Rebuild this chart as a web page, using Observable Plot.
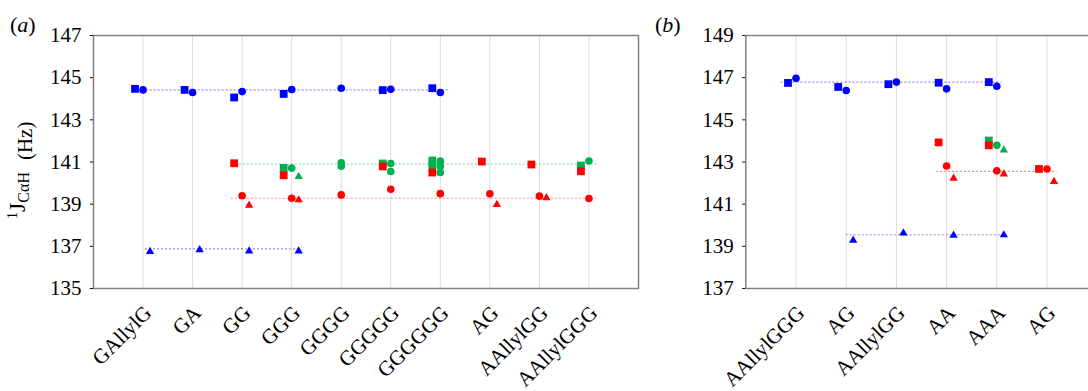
<!DOCTYPE html>
<html>
<head>
<meta charset="utf-8">
<script src="https://cdn.jsdelivr.net/npm/d3@7"></script>
<script src="https://cdn.jsdelivr.net/npm/@observablehq/plot@0.6"></script>
<style>
  html, body { margin: 0; padding: 0; background: white; overflow: hidden; }
  #wrap { position: relative; width: 1088px; height: 391px; display: flex; }
  .plab { position: absolute; font-family: 'Liberation Serif', 'Times New Roman', serif; font-size: 22px; line-height: 1; }
</style>
</head>
<body>
<div id="wrap">
  <span class="plab" style="left:10px;top:14px;">(<i>a</i>)</span>
  <span class="plab" style="left:655px;top:14px;">(<i>b</i>)</span>
</div>
<script>
// ---------- Panel (a) data ----------
const catsA = ["GAllylG", "GA", "GG", "GGG", "GGGG", "GGGGG", "GGGGGG", "AG", "AAllylGG", "AAllylGGG"];
const yTicksA = [135, 137, 139, 141, 143, 145, 147];
const aBlueSq  = [144.47, 144.42, 144.06, 144.23, null, 144.41, 144.50, null, null, null];
const aBlueCi  = [144.42, 144.30, 144.34, 144.44, 144.50, 144.45, 144.30, null, null, null];
const aBlueTr  = [136.75, 136.83, 136.77, 136.77, null, null, null, null, null, null];
const aGreenSq = [null, null, null, 140.72, null, 140.93, [141.07, 140.85], null, null, 140.83];
const aGreenCi = [null, null, null, 140.71, [140.96, 140.80], [140.93, 140.55], [141.04, 140.79, 140.50], null, null, 141.05];
const aGreenTr = [null, null, null, 140.31, null, null, null, null, null, null];
const aRedSq   = [null, null, 140.94, 140.37, null, 140.79, 140.50, 141.02, 140.88, 140.56];
const aRedCi   = [null, null, 139.40, 139.28, 139.44, 139.71, 139.50, 139.49, 139.38, 139.27];
const aRedTr   = [null, null, 138.94, 139.20, null, null, null, 138.98, 139.30, null];
// reference (average) lines: [value, from category, to category]
const aRefBlue  = [[144.42, -0.18, 6.2], [136.88, 0.05, 3.2]];
const aRefGreen = [[140.90, 1.86, 9.2]];
const aRefRed   = [[139.28, 1.78, 9.18]];

// ---------- Panel (b) data ----------
const catsB = ["AAllylGGG", "AG", "AAllylGG", "AA", "AAA", "AG"];
const yTicksB = [137, 139, 141, 143, 145, 147, 149];
const bBlueSq  = [146.75, 146.56, 146.69, 146.76, 146.79, null];
const bBlueCi  = [146.97, 146.39, 146.79, 146.47, 146.59, null];
const bBlueTr  = [null, 139.28, 139.63, 139.52, 139.54, null];
const bGreenSq = [null, null, null, null, 144.02, null];
const bGreenCi = [null, null, null, null, 143.79, null];
const bGreenTr = [null, null, null, null, 143.57, null];
const bRedSq   = [null, null, null, 143.93, 143.79, 142.67];
const bRedCi   = [null, null, null, 142.81, 142.58, 142.67];
const bRedTr   = [null, null, null, 142.23, 142.43, 142.07];
const bRefBlue  = [[146.79, -0.3, 4.1], [139.55, 1.0, 4.1]];
const bRefGreen = [];
const bRefRed   = [[142.56, 2.8, 5.2]];

const BLUE = "#0000ff", RED = "#ff0000", GREEN = "#00b050";
const FONT = "'Liberation Serif', 'Times New Roman', serif";

function pts(arr) {
  return arr.flatMap((v, i) => v == null ? [] : (Array.isArray(v) ? v : [v]).map(y => ({x: i, y})));
}
function refs(arr) { return arr.map(([y, x1, x2]) => ({y, x1, x2})); }

function panel(cfg) {
  const n = cfg.cats.length;
  const dots = (arr, symbol, fill) => {
    const r = symbol === "square" ? 4.4 : symbol === "triangle" ? 3.1 : 3.8;
    const dx = symbol === "square" ? -8 : symbol === "triangle" ? 7 : 0;
    return Plot.dot(pts(arr), {x: "x", y: "y", symbol, fill, r, dx, stroke: "none"});
  };
  const ref = (arr, stroke) => Plot.ruleY(refs(arr), {y: "y", x1: "x1", x2: "x2", stroke, strokeWidth: 1.2, strokeDasharray: "2,2", strokeOpacity: 0.45});
  return Plot.plot({
    width: cfg.width, height: 391,
    marginLeft: cfg.ml, marginRight: cfg.mr, marginTop: 35, marginBottom: 103,
    style: {fontFamily: FONT, fontSize: "21px", background: "white", color: "black"},
    x: {domain: [-1, n], axis: null},
    y: {domain: [cfg.ticks[0], cfg.ticks[cfg.ticks.length - 1]], ticks: cfg.ticks, tickSize: 3, tickPadding: 9, label: null, tickFormat: d => String(d)},
    marks: [
      Plot.ruleX(d3.range(n), {stroke: "#dcdcdc", strokeWidth: 1}),
      ref(cfg.refBlue, BLUE), ref(cfg.refGreen, GREEN), ref(cfg.refRed, RED),
      dots(cfg.blue[0], "square", BLUE), dots(cfg.blue[1], "circle", BLUE), dots(cfg.blue[2], "triangle", BLUE),
      dots(cfg.green[0], "square", GREEN), dots(cfg.green[1], "circle", GREEN), dots(cfg.green[2], "triangle", GREEN),
      dots(cfg.red[0], "square", RED), dots(cfg.red[1], "circle", RED), dots(cfg.red[2], "triangle", RED),
      Plot.frame({stroke: "#808080", strokeWidth: 1.5}),
      Plot.text(cfg.cats, {x: (d, i) => i, frameAnchor: "bottom", text: d => d, rotate: -45, textAnchor: "end", lineAnchor: "middle", dx: 5, dy: 21, fontSize: 21, fill: "black"})
    ]
  });
}

const svgA = panel({
  cats: catsA, ticks: yTicksA, width: 645, ml: 93, mr: 7,
  blue: [aBlueSq, aBlueCi, aBlueTr], green: [aGreenSq, aGreenCi, aGreenTr], red: [aRedSq, aRedCi, aRedTr],
  refBlue: aRefBlue, refGreen: aRefGreen, refRed: aRefRed
});
const svgB = panel({
  cats: catsB, ticks: yTicksB, width: 443, ml: 100.3, mr: -8.7,
  blue: [bBlueSq, bBlueCi, bBlueTr], green: [bGreenSq, bGreenCi, bGreenTr], red: [bRedSq, bRedCi, bRedTr],
  refBlue: bRefBlue, refGreen: bRefGreen, refRed: bRefRed
});

// y-axis label for panel (a): ¹J_CαH (Hz)
const lab = d3.select(svgA).append("text")
  .attr("transform", "translate(0,219) rotate(-90)")
  .attr("text-anchor", "start")
  .style("font-family", FONT).style("fill", "black");
lab.append("tspan").attr("x", 0).attr("y", 17).style("font-size", "14px").text("1");
lab.append("tspan").attr("y", 25).style("font-size", "24px").text("J");
lab.append("tspan").attr("y", 29).style("font-size", "16px").text("CαH");
lab.append("tspan").attr("y", 32).attr("dx", 12).style("font-size", "21px").text("(Hz)");

const wrap = document.getElementById("wrap");
wrap.insertBefore(svgB, wrap.firstChild);
wrap.insertBefore(svgA, wrap.firstChild);
</script>
</body>
</html>
